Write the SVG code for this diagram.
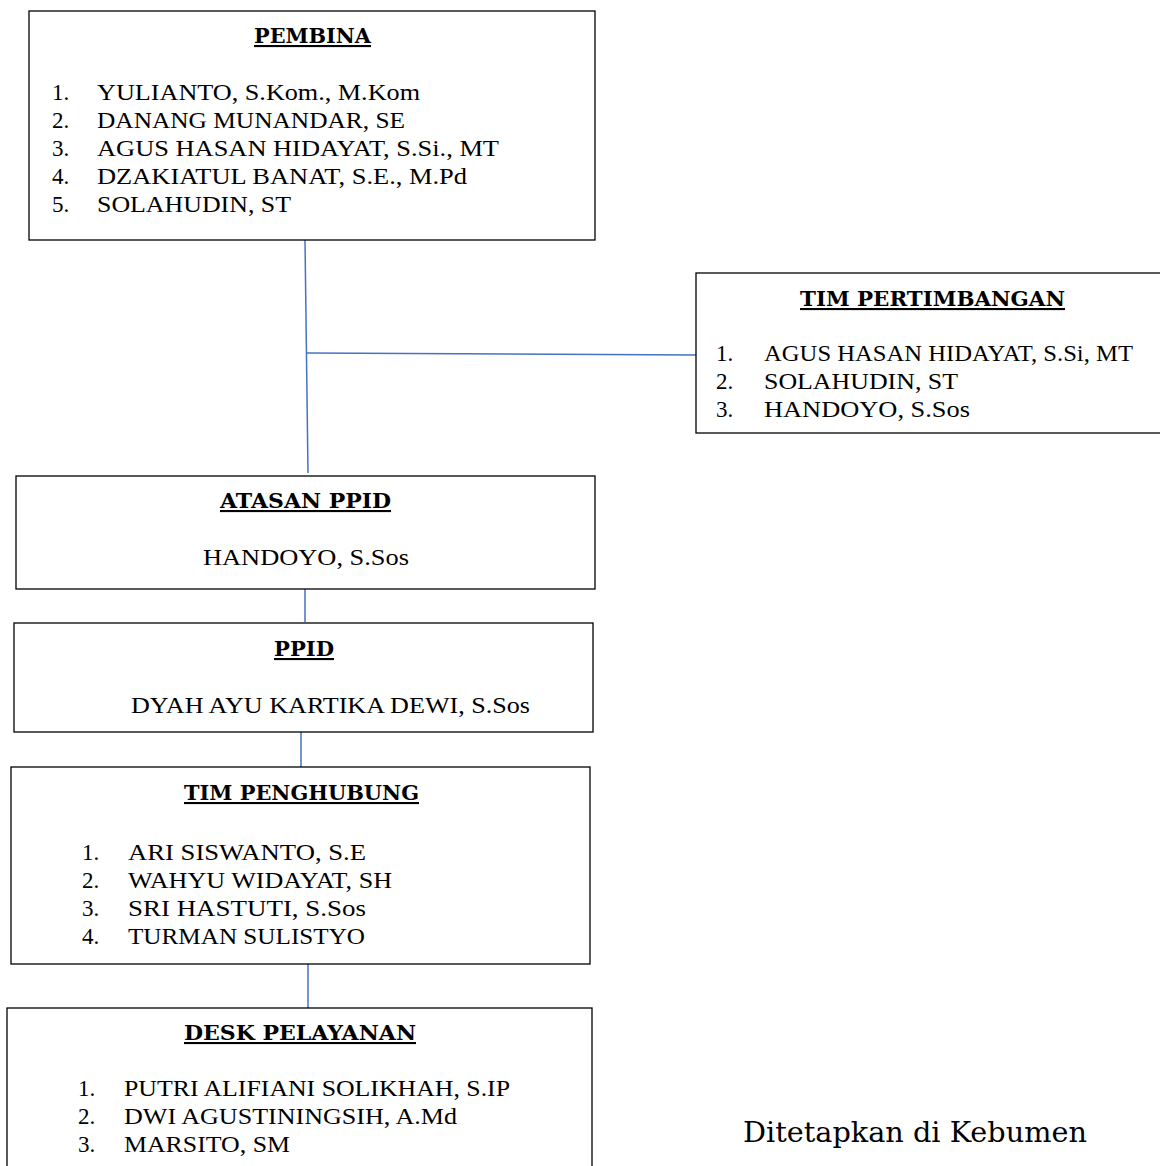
<svg xmlns="http://www.w3.org/2000/svg" width="1160" height="1166" viewBox="0 0 1160 1166">
<style>
.box{fill:#fff;stroke:#000;stroke-width:1.3}
.t{font-family:"DejaVu Serif","Liberation Serif",serif;font-weight:bold;font-size:21px;text-decoration:underline;fill:#000}
.n{font-family:"Liberation Serif","DejaVu Serif",serif;font-size:23px;fill:#000}
.c{stroke:#4472C4;stroke-width:1.5;fill:none}
.f{font-family:"DejaVu Serif","Liberation Serif",serif;font-size:27px;fill:#000}
</style>
<rect width="1160" height="1166" fill="#fff"/>
<g id="connectors">
<line class="c" x1="305" y1="240" x2="308" y2="473"/>
<line class="c" x1="306" y1="353" x2="696" y2="355"/>
<line class="c" x1="305" y1="589" x2="305" y2="622"/>
<line class="c" x1="301" y1="732" x2="301" y2="767"/>
<line class="c" x1="308" y1="964" x2="308" y2="1008"/>
</g>
<g id="pembina">
<rect class="box" x="29" y="11" width="566" height="229"/>
<text class="t" x="254" y="43" textLength="117" lengthAdjust="spacingAndGlyphs">PEMBINA</text>
<text class="n" x="52" y="100">1.</text><text class="n" x="97" y="100" textLength="323" lengthAdjust="spacingAndGlyphs">YULIANTO, S.Kom., M.Kom</text>
<text class="n" x="52" y="128">2.</text><text class="n" x="97" y="128" textLength="308" lengthAdjust="spacingAndGlyphs">DANANG MUNANDAR, SE</text>
<text class="n" x="52" y="156">3.</text><text class="n" x="97" y="156" textLength="402" lengthAdjust="spacingAndGlyphs">AGUS HASAN HIDAYAT, S.Si., MT</text>
<text class="n" x="52" y="184">4.</text><text class="n" x="97" y="184" textLength="370" lengthAdjust="spacingAndGlyphs">DZAKIATUL BANAT, S.E., M.Pd</text>
<text class="n" x="52" y="212">5.</text><text class="n" x="97" y="212" textLength="194" lengthAdjust="spacingAndGlyphs">SOLAHUDIN, ST</text>
</g>
<g id="tim-pertimbangan">
<rect class="box" x="696" y="273" width="470" height="160"/>
<text class="t" x="800" y="306" textLength="265" lengthAdjust="spacingAndGlyphs">TIM PERTIMBANGAN</text>
<text class="n" x="716" y="361">1.</text><text class="n" x="764" y="361" textLength="369" lengthAdjust="spacingAndGlyphs">AGUS HASAN HIDAYAT, S.Si, MT</text>
<text class="n" x="716" y="389">2.</text><text class="n" x="764" y="389" textLength="194" lengthAdjust="spacingAndGlyphs">SOLAHUDIN, ST</text>
<text class="n" x="716" y="417">3.</text><text class="n" x="764" y="417" textLength="206" lengthAdjust="spacingAndGlyphs">HANDOYO, S.Sos</text>
</g>
<g id="atasan-ppid">
<rect class="box" x="16" y="476" width="579" height="113"/>
<text class="t" x="220" y="508" textLength="171" lengthAdjust="spacingAndGlyphs">ATASAN PPID</text>
<text class="n" x="203" y="565" textLength="206" lengthAdjust="spacingAndGlyphs">HANDOYO, S.Sos</text>
</g>
<g id="ppid">
<rect class="box" x="14" y="623" width="579" height="109"/>
<text class="t" x="274" y="656" textLength="60" lengthAdjust="spacingAndGlyphs">PPID</text>
<text class="n" x="131" y="713" textLength="399" lengthAdjust="spacingAndGlyphs">DYAH AYU KARTIKA DEWI, S.Sos</text>
</g>
<g id="tim-penghubung">
<rect class="box" x="11" y="767" width="579" height="197"/>
<text class="t" x="184" y="800" textLength="235" lengthAdjust="spacingAndGlyphs">TIM PENGHUBUNG</text>
<text class="n" x="82" y="860">1.</text><text class="n" x="128" y="860" textLength="238" lengthAdjust="spacingAndGlyphs">ARI SISWANTO, S.E</text>
<text class="n" x="82" y="888">2.</text><text class="n" x="128" y="888" textLength="264" lengthAdjust="spacingAndGlyphs">WAHYU WIDAYAT, SH</text>
<text class="n" x="82" y="916">3.</text><text class="n" x="128" y="916" textLength="238" lengthAdjust="spacingAndGlyphs">SRI HASTUTI, S.Sos</text>
<text class="n" x="82" y="944">4.</text><text class="n" x="128" y="944" textLength="237" lengthAdjust="spacingAndGlyphs">TURMAN SULISTYO</text>
</g>
<g id="desk-pelayanan">
<rect class="box" x="7" y="1008" width="585" height="170"/>
<text class="t" x="184" y="1040" textLength="232" lengthAdjust="spacingAndGlyphs">DESK PELAYANAN</text>
<text class="n" x="78" y="1096">1.</text><text class="n" x="124" y="1096" textLength="386" lengthAdjust="spacingAndGlyphs">PUTRI ALIFIANI SOLIKHAH, S.IP</text>
<text class="n" x="78" y="1124">2.</text><text class="n" x="124" y="1124" textLength="333" lengthAdjust="spacingAndGlyphs">DWI AGUSTININGSIH, A.Md</text>
<text class="n" x="78" y="1152">3.</text><text class="n" x="124" y="1152" textLength="166" lengthAdjust="spacingAndGlyphs">MARSITO, SM</text>
</g>
<text id="ditetapkan" class="f" x="743" y="1142" textLength="344" lengthAdjust="spacingAndGlyphs">Ditetapkan di Kebumen</text>
</svg>
